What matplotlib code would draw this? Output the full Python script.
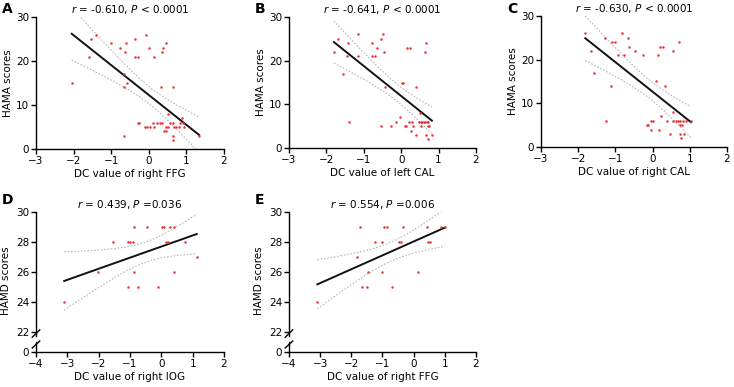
import numpy as np
import matplotlib
matplotlib.use('Agg')
import matplotlib.pyplot as plt

# panel A: DC value of right FFG vs HAMA
a_x = [-2.05, -1.6, -1.54, -1.4, -1.0, -0.76, -0.6, -0.63, -0.37, -0.38, -0.29, -0.65, -0.58,
       -0.65, -0.08, 0.01, 0.45, 0.37, 0.36, 0.14, 0.33, 0.64, -0.65,
       -0.3, -0.25, -0.1, -0.04, 0.02, 0.11, 0.14, 0.23, 0.3, 0.35, 0.45, 0.5, 0.5, 0.57, 0.64,
       0.67, 0.73, 0.79, 0.46, 0.4, 0.65, 0.64, 0.89, 0.9, 0.94, 1.34, 0.83]
a_y = [15, 21, 25, 26, 24, 23, 24, 22, 25, 21, 21, 17, 15,
       14, 26, 23, 24, 23, 22, 21, 14, 14, 3,
       6, 6, 5, 5, 5, 6, 5, 6, 6, 6, 5, 5, 8, 6, 6,
       5, 5, 5, 4, 4, 3, 2, 7, 6, 5, 3, 6]

# panel B: DC value of left CAL vs HAMA
b_x = [-1.8, -1.69, -1.42, -1.45, -1.56, -1.4, -1.16, -1.16, -0.78, -0.78, -0.71, -0.64, -0.53,
       -0.49, -0.47, -0.44, -0.55, -0.27, 0.15, 0.24, 0.67, 0.64, 0.03, 0.06, 0.4,
       -0.03, -0.15, 0.09, 0.13, 0.31, 0.53, 0.71, 0.75, 0.2, 0.28, 0.47, 0.52, 0.56, 0.6,
       0.64, 0.68, 0.72, 0.27, 0.4, 0.67, 0.71, 0.82, 0.49]
b_y = [22, 25, 24, 21, 17, 6, 26, 21, 24, 21, 21, 23, 25,
       26, 22, 14, 5, 5, 23, 23, 24, 22, 15, 15, 14,
       7, 6, 5, 5, 5, 5, 5, 5, 6, 6, 6, 6, 6, 6,
       6, 6, 6, 4, 3, 3, 2, 3, 8]

# panel C: DC value of right CAL vs HAMA
c_x = [-1.81, -1.65, -1.57, -1.28, -1.25, -1.1, -1.0, -1.12, -0.94, -0.81, -0.77, -0.65, -0.63,
       -0.46, -0.25, 0.08, 0.33, 0.2, 0.27, 0.15, 0.55, 0.7,
       -0.16, -0.12, -0.03, 0.02, -0.05, 0.17, 0.23, 0.38, 0.46, 0.55, 0.62, 0.68, 0.75, 0.82,
       0.9, 0.75, 0.8, 0.73, 0.76, 0.84, 1.03, 0.54]
c_y = [26, 22, 17, 25, 6, 24, 24, 14, 21, 26, 21, 25, 23,
       22, 21, 15, 14, 23, 23, 21, 22, 24,
       5, 5, 6, 6, 4, 4, 7, 6, 3, 6, 6, 6, 6, 6,
       6, 5, 5, 3, 2, 3, 6, 8]

# panel D: DC value of right IOG vs HAMD
d_x = [-0.87, -0.45, 0.01, 0.09, 0.28, 0.4, -1.53, -1.07, -1.0, -0.89, 0.15, 0.22, 0.76,
       1.13, -2.03, -0.87, 0.4, -1.05, -0.75, -0.1, -3.1]
d_y = [29, 29, 29, 29, 29, 29, 28, 28, 28, 28, 28, 28, 28,
       27, 26, 26, 26, 25, 25, 25, 24]

# panel E: DC value of right FFG vs HAMD
e_x = [-1.73, -0.95, -0.87, -0.33, 0.42, 0.88, 1.0, -1.25, -1.0, -0.47, -0.42, 0.47, 0.52,
       -1.83, -1.46, -1.0, 0.13, -1.65, -1.49, -0.69, -3.09]
e_y = [29, 29, 29, 29, 29, 29, 29, 28, 28, 28, 28, 28, 28,
       27, 26, 26, 26, 25, 25, 25, 24]

titles = [r'$r$ = -0.610, $P$ < 0.0001', r'$r$ = -0.641, $P$ < 0.0001', r'$r$ = -0.630, $P$ < 0.0001',
          r'$r$ = 0.439, $P$ =0.036', r'$r$ = 0.554, $P$ =0.006']
xlabels = ['DC value of right FFG', 'DC value of left CAL', 'DC value of right CAL',
           'DC value of right IOG', 'DC value of right FFG']
letters = ['A', 'B', 'C', 'D', 'E']

plt.rcParams['font.family'] = 'DejaVu Sans'
plt.rcParams['font.size'] = 7
plt.rcParams['mathtext.fontset'] = 'dejavusans'

W, H = 734, 387
fig = plt.figure(figsize=(W / 100, H / 100), dpi=100)


def rect(l, r, t, b):
    return [l / W, 1 - b / H, (r - l) / W, (b - t) / H]


def fit_band(x, y):
    x = np.asarray(x, float)
    y = np.asarray(y, float)
    n = len(x)
    slope, icpt = np.polyfit(x, y, 1)
    xs = np.linspace(x.min(), x.max(), 100)
    ys = icpt + slope * xs
    s = np.sqrt(np.sum((y - (icpt + slope * x)) ** 2) / (n - 2))
    sxx = np.sum((x - x.mean()) ** 2)
    t = 1.96 + 2.4 / (n - 2)
    half = t * s * np.sqrt(1 / n + (xs - x.mean()) ** 2 / sxx)
    return xs, ys, ys - half, ys + half


def style(ax):
    for sp in ['top', 'right']:
        ax.spines[sp].set_visible(False)
    for sp in ['left', 'bottom']:
        ax.spines[sp].set_linewidth(1.0)
    ax.tick_params(direction='out', length=3.5, width=1.0, pad=1.5, labelsize=7.5)


def draw(ax, x, y):
    xs, ys, lo, hi = fit_band(x, y)
    ax.plot(xs, lo, color='#b8b8b8', lw=0.8, ls=(0, (1.5, 1.5)))
    ax.plot(xs, hi, color='#b8b8b8', lw=0.8, ls=(0, (1.5, 1.5)))
    ax.plot(xs, ys, color='#111111', lw=1.4)
    ax.plot(x, y, ls='none', marker='o', ms=1.8, mew=0, color='#e8333c')


# top row
top = [(a_x, a_y, 36, 224, 17, 149), (b_x, b_y, 289, 476, 17, 148), (c_x, c_y, 541, 727, 16, 147)]
for i, (x, y, l, r, t, b) in enumerate(top):
    ax = fig.add_axes(rect(l, r, t, b))
    style(ax)
    draw(ax, x, y)
    ax.set_xlim(-3, 2)
    ax.set_ylim(0, 30)
    ax.set_xticks(range(-3, 3))
    ax.set_yticks([0, 10, 20, 30])
    ax.set_xlabel(xlabels[i], fontsize=7.5, labelpad=2)
    ax.set_ylabel('HAMA scores', fontsize=7.5, labelpad=2)
    ax.set_title(titles[i], fontsize=7.5, pad=3)
    fig.text((l - 34) / W, 1 - 9 / H, letters[i], fontsize=10, fontweight='bold', va='center')

# bottom row with broken y axis
bottom = [(d_x, d_y, 36, 224), (e_x, e_y, 289, 476)]
for j, (x, y, l, r) in enumerate(bottom):
    i = j + 3
    ax = fig.add_axes(rect(l, r, 212, 336))
    ax2 = fig.add_axes(rect(l, r, 342, 352))
    style(ax)
    style(ax2)
    ax.spines['bottom'].set_visible(False)
    ax.tick_params(axis='x', bottom=False, labelbottom=False)
    draw(ax, x, y)
    ax.set_xlim(-4, 2)
    ax.set_ylim(21.73, 30)
    ax.set_yticks([22, 24, 26, 28, 30])
    ax2.set_xlim(-4, 2)
    ax2.set_ylim(0, 1)
    ax2.set_yticks([0])
    ax2.set_xticks(range(-4, 3))
    ax2.set_xlabel(xlabels[i], fontsize=7.5, labelpad=2)
    ax.set_ylabel('HAMD scores', fontsize=7.5, labelpad=2)
    ax.yaxis.set_label_coords(-0.135, 0.45)
    ax.set_title(titles[i], fontsize=7.5, pad=3)
    # break marks
    ax.plot([-0.02, 0.02], [-0.01, 0.05], transform=ax.transAxes, color='k', lw=1.0, clip_on=False)
    ax2.plot([-0.02, 0.02], [0.4, 1.1], transform=ax2.transAxes, color='k', lw=1.0, clip_on=False)
    fig.text((l - 34) / W, 1 - 200 / H, letters[i], fontsize=10, fontweight='bold', va='center')

fig.savefig('out.png', dpi=100)
